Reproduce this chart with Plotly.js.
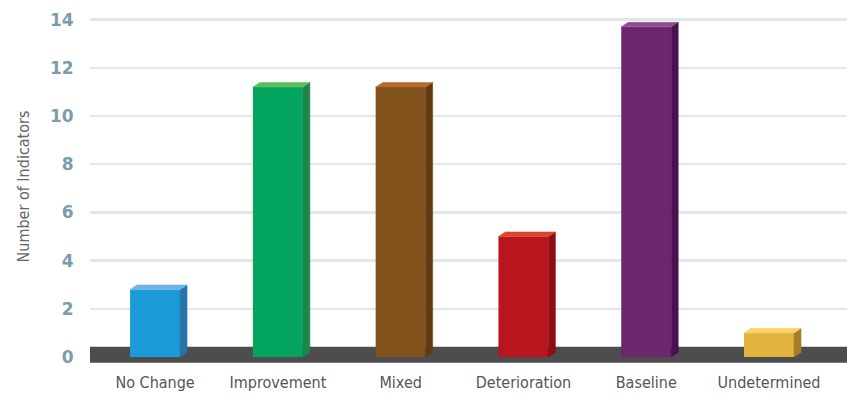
<!DOCTYPE html>
<html>
<head>
<meta charset="utf-8">
<script src="https://cdn.plot.ly/plotly-3.0.1.min.js"></script>
<style>html,body{margin:0;padding:0;background:#fff;}#chart{width:847px;height:394px;}</style>
</head>
<body>
<div id="chart"></div>
<script>
const categories = ['No Change', 'Improvement', 'Mixed', 'Deterioration', 'Baseline', 'Undetermined'];
const values = [2.8, 11.2, 11.2, 5.0, 13.7, 1.0];
const frontColors = ['#1a9bd7', '#03a55e', '#81511c', '#b8151c', '#6a276e', '#e3b33f'];
const sideColors = ['#2873a8', '#1c854a', '#5f3b12', '#900d13', '#4a1150', '#a27e24'];
const topColors = ['#6db3e3', '#5cbe5a', '#b8692c', '#d8442c', '#8c4c8e', '#f8d266'];
const yTicks = [0, 2, 4, 6, 8, 10, 12, 14];
const gridTicks = [2, 4, 6, 8, 10, 12, 14];

const xIdx = categories.map((c, i) => i);
const W = 0.407, DX = 0.057, DY = 0.19;
const condensed = '"DejaVu Sans Condensed", "Liberation Sans Narrow", sans-serif';

const traces = [{
  type: 'bar', x: xIdx, y: values, width: W,
  marker: {color: frontColors, line: {width: 0}},
  hoverinfo: 'skip', showlegend: false
}];
values.forEach((v, i) => {
  const L = i - W / 2, R = i + W / 2;
  traces.push({
    type: 'scatter', mode: 'lines', fill: 'toself', fillcolor: sideColors[i],
    x: [R, R + DX, R + DX, R, R], y: [0, DY, v + DY, v, 0],
    line: {width: 0.5, color: sideColors[i]}, hoverinfo: 'skip', showlegend: false
  });
  traces.push({
    type: 'scatter', mode: 'lines', fill: 'toself', fillcolor: topColors[i],
    x: [L, R, R + DX, L + DX, L], y: [v, v, v + DY, v + DY, v],
    line: {width: 0.5, color: topColors[i]}, hoverinfo: 'skip', showlegend: false
  });
});

const layout = {
  width: 847, height: 394,
  margin: {l: 90, r: 0, t: 10, b: 31},
  paper_bgcolor: '#ffffff', plot_bgcolor: '#ffffff',
  showlegend: false,
  xaxis: {
    range: [-0.53, 5.635], tickvals: xIdx, ticktext: categories,
    showgrid: false, zeroline: false, showline: false,
    ticks: 'outside', ticklen: 5, tickcolor: 'rgba(0,0,0,0)',
    tickfont: {family: condensed, size: 16, color: '#555555'},
    fixedrange: true
  },
  yaxis: {
    range: [-0.25, 14.4], tickvals: yTicks, ticktext: yTicks.map(String),
    showgrid: false, zeroline: false, showline: false,
    ticks: 'outside', ticklen: 12, tickcolor: 'rgba(0,0,0,0)',
    tickfont: {family: '"DejaVu Sans", sans-serif', size: 17, color: '#7b9cad', weight: 700},
    title: {text: 'Number of Indicators', standoff: 16,
      font: {family: condensed, size: 16, color: '#666666'}},
    automargin: false, fixedrange: true
  },
  yaxis2: {
    range: [-0.25, 14.4], tickvals: gridTicks, overlaying: 'y', side: 'left',
    showgrid: true, gridcolor: '#e1e8ec', gridwidth: 2.5,
    zeroline: false, showline: false, showticklabels: false, ticks: '',
    fixedrange: true
  },
  shapes: [{
    type: 'rect', xref: 'paper', yref: 'y', x0: 0, x1: 1, y0: -0.24, y1: 0.42,
    fillcolor: '#4d4d4f', line: {width: 0}, layer: 'below'
  }]
};

// invisible trace that activates the gridline axis
traces.unshift({type: 'scatter', x: [0], y: [0], yaxis: 'y2', mode: 'markers',
  marker: {opacity: 0}, hoverinfo: 'skip', showlegend: false});

Plotly.newPlot('chart', traces, layout, {staticPlot: true, displayModeBar: false});
</script>
</body>
</html>
